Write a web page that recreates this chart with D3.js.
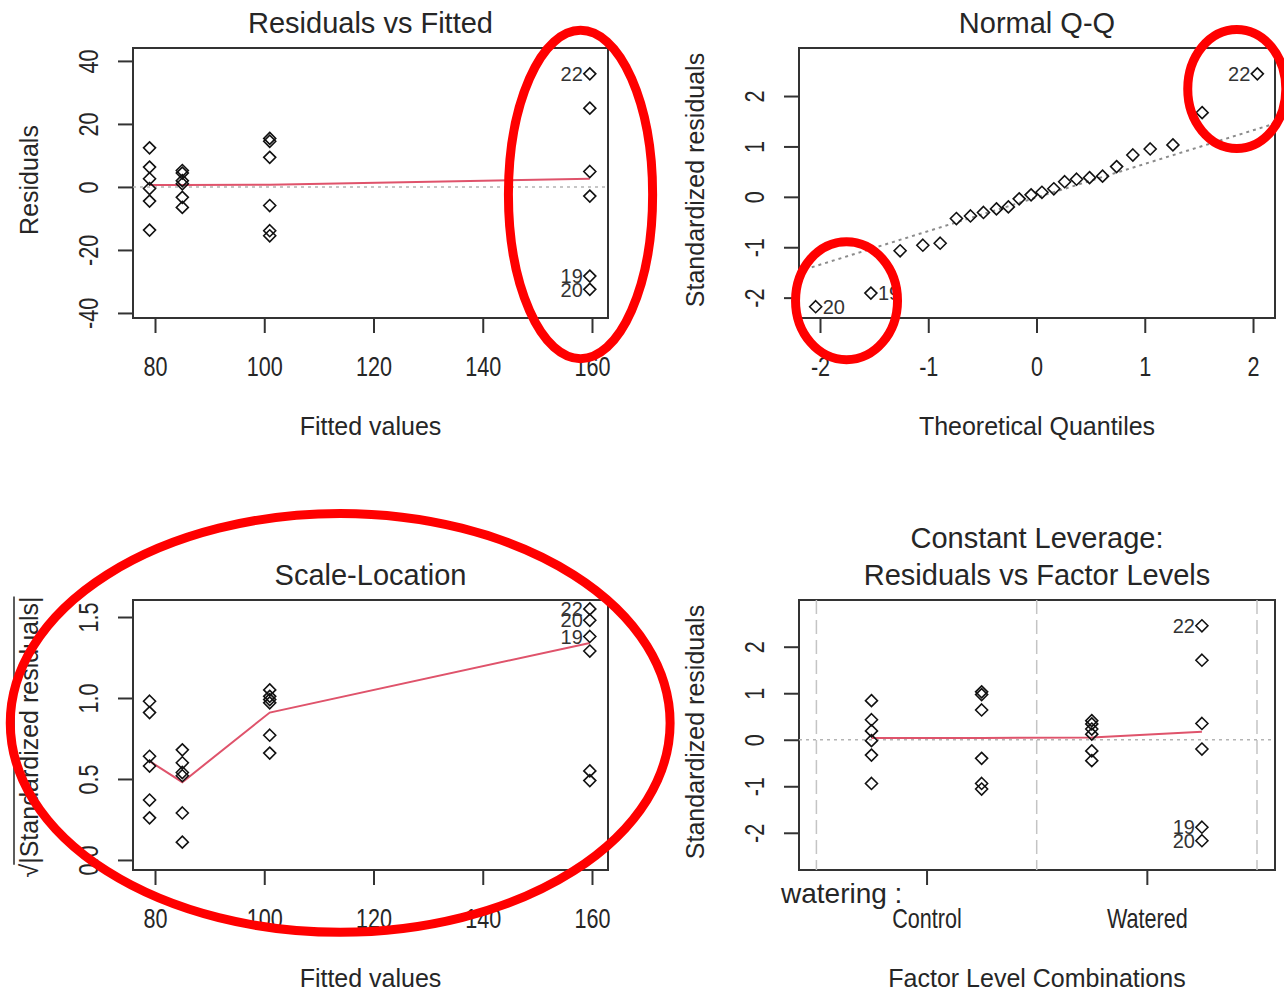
<!DOCTYPE html>
<html>
<head>
<meta charset="utf-8">
<script src="https://cdn.jsdelivr.net/npm/d3@7"></script>
<style>
  body { margin: 0; background: #fff; }
  svg { display: block; font-family: "Liberation Sans", Arial, sans-serif; }
</style>
</head>
<body>
<svg id="chart" width="1284" height="991"></svg>
<script>
// fitted value of each of the four treatment groups (6 plants each)
const fittedLevels = [79, 85, 101, 159.6];
const factorPositions = [1, 3, 5, 7];
const factorDividers = [0, 4, 8];
const factorTicks = [2, 6];
const factorTickLabels = ['Control', 'Watered'];

// Residuals vs Fitted
const residuals = [
  [12.4, 6.3, 2.6, -0.5, -4.5, -13.7],
  [5.2, 4.4, 2.0, 1.0, -3.3, -6.5],
  [15.4, 14.5, 9.4, -5.9, -13.9, -15.5],
  [35.9, 25.0, 4.9, -2.9, -28.3, -32.5]
];
const residualIds = ['22', '', '', '', '19', '20'];
const residualSmooth = [0.6, 0.6, 0.7, 2.6];

// Normal Q-Q
const qqTheoretical = [-2.04, -1.53, -1.26, -1.05, -0.89, -0.74, -0.61, -0.49, -0.37, -0.26, -0.16, -0.05,
  0.05, 0.16, 0.26, 0.37, 0.49, 0.61, 0.74, 0.89, 1.05, 1.26, 1.53, 2.04];
const qqStandardized = [-2.18, -1.91, -1.07, -0.96, -0.92, -0.43, -0.38, -0.31, -0.24, -0.20, -0.04, 0.04,
  0.09, 0.16, 0.30, 0.35, 0.38, 0.41, 0.60, 0.83, 0.95, 1.03, 1.67, 2.44];
const qqIds = ['20', '19', '', '', '', '', '', '', '', '', '', '', '', '', '', '', '', '', '', '', '', '', '', '22'];
const qqLineX = [-2.2, 2.21];
const qqLineY = [-1.48, 1.46];

// Scale-Location
const sqrtStd = [
  [0.98, 0.91, 0.64, 0.58, 0.37, 0.26],
  [0.68, 0.60, 0.54, 0.52, 0.29, 0.11],
  [1.05, 1.01, 0.99, 0.97, 0.77, 0.66],
  [1.55, 1.48, 1.38, 1.29, 0.55, 0.49]
];
const sqrtStdIds = ['22', '20', '19', '', '', ''];
const sqrtStdSmooth = [0.61, 0.48, 0.91, 1.34];

// Constant Leverage: Residuals vs Factor Levels
const factorStd = [
  [0.84, 0.43, 0.19, -0.02, -0.33, -0.94],
  [1.03, 0.97, 0.64, -0.40, -0.94, -1.06],
  [0.41, 0.34, 0.23, 0.12, -0.24, -0.45],
  [2.45, 1.71, 0.35, -0.20, -1.88, -2.17]
];
const factorStdIds = ['22', '', '', '', '19', '20'];
const factorStdSmooth = [0.04, 0.04, 0.05, 0.17];

// hand-drawn red highlight rings, in each panel's data units
const ringPanel = [0, 1, 1, 2];
const ringCx = [157.9, 1.85, -1.755, 113.9];
const ringCy = [-2.4, 2.14, -2.06, 0.846];
const ringRx = [13.2, 0.453, 0.471, 60.4];
const ringRy = [52.1, 1.18, 1.17, 1.293];

const svg = d3.select('#chart');
const ink = '#262626';
const smoothColor = '#DF536B';
const tickFont = 27;
const tickSqueeze = 0.8;

const panels = [
  {
    left: 133, right: 608, top: 48, bottom: 318,
    xDomain: [75.97, 162.93], yDomain: [-41.6, 44.1],
    xTicks: [80, 100, 120, 140, 160], yTicks: [-40, -20, 0, 20, 40],
    title: ['Residuals vs Fitted'], xTitle: 'Fitted values', yTitle: 'Residuals'
  },
  {
    left: 799, right: 1275, top: 48, bottom: 318,
    xDomain: [-2.194, 2.203], yDomain: [-2.404, 2.953],
    xTicks: [-2, -1, 0, 1, 2], yTicks: [-2, -1, 0, 1, 2],
    title: ['Normal Q-Q'], xTitle: 'Theoretical Quantiles', yTitle: 'Standardized residuals'
  },
  {
    left: 133, right: 608, top: 600, bottom: 870,
    xDomain: [75.97, 162.93], yDomain: [-0.062, 1.605],
    xTicks: [80, 100, 120, 140, 160], yTicks: [0, 0.5, 1, 1.5], yFormat: d3.format('.1f'),
    title: ['Scale-Location'], xTitle: 'Fitted values', yTitle: null
  },
  {
    left: 799, right: 1275, top: 600, bottom: 870,
    xDomain: [-0.316, 8.327], yDomain: [-2.80, 3.004],
    xTicks: factorTicks, yTicks: [-2, -1, 0, 1, 2],
    xFormat: (d, i) => factorTickLabels[i],
    title: ['Constant Leverage:', 'Residuals vs Factor Levels'],
    xTitle: 'Factor Level Combinations', yTitle: 'Standardized residuals'
  }
];

const scales = panels.map(drawFrame);

// --- Residuals vs Fitted
{
  const { x, y, g, p } = scales[0];
  zeroLine(g, p, y);
  smoothLine(g, fittedLevels.map((f, i) => [x(f), y(residualSmooth[i])]));
  residuals.forEach((grp, gi) => grp.forEach((v, i) => {
    diamond(g, x(fittedLevels[gi]), y(v));
    if (gi === 3 && residualIds[i]) pointLabel(g, x(fittedLevels[gi]), y(v), residualIds[i], 'left');
  }));
}

// --- Normal Q-Q
{
  const { x, y, g } = scales[1];
  g.append('path')
    .attr('d', d3.line()(qqLineX.map((v, i) => [x(v), y(qqLineY[i])])))
    .attr('stroke', '#8c8c8c')
    .attr('stroke-width', 2)
    .attr('stroke-dasharray', '3,4')
    .attr('clip-path', 'url(#clip1)')
    .attr('fill', 'none');
  qqTheoretical.forEach((q, i) => {
    diamond(g, x(q), y(qqStandardized[i]));
    if (qqIds[i]) pointLabel(g, x(q), y(qqStandardized[i]), qqIds[i], i < 12 ? 'right' : 'left');
  });
}

// --- Scale-Location
{
  const { x, y, g, p } = scales[2];
  smoothLine(g, fittedLevels.map((f, i) => [x(f), y(sqrtStdSmooth[i])]));
  sqrtStd.forEach((grp, gi) => grp.forEach((v, i) => {
    diamond(g, x(fittedLevels[gi]), y(v));
    if (gi === 3 && sqrtStdIds[i]) pointLabel(g, x(fittedLevels[gi]), y(v), sqrtStdIds[i], 'left');
  }));

  // y title: sqrt(|Standardized residuals|) with a bar over it
  const yt = g.append('g').attr('transform', `translate(${p.left - 95},${(p.top + p.bottom) / 2 + 2}) rotate(-90)`);
  const t = yt.append('text')
    .attr('text-anchor', 'middle')
    .attr('font-size', 25)
    .attr('fill', ink)
    .text('\u221A|Standardized residuals|');
  const full = t.node().getComputedTextLength();
  const root = t.node().getSubStringLength(0, 1);
  yt.append('line')
    .attr('x1', -full / 2 + root - 1).attr('x2', full / 2)
    .attr('y1', -24).attr('y2', -24)
    .attr('stroke', ink).attr('stroke-width', 1.5);
}

// --- Constant Leverage
{
  const { x, y, g, p } = scales[3];
  factorDividers.forEach(d => {
    g.append('line')
      .attr('x1', x(d)).attr('x2', x(d))
      .attr('y1', p.top).attr('y2', p.bottom)
      .attr('stroke', '#c4c4c4')
      .attr('stroke-width', 1.5)
      .attr('stroke-dasharray', '14,6');
  });
  zeroLine(g, p, y);
  smoothLine(g, factorPositions.map((f, i) => [x(f), y(factorStdSmooth[i])]));
  factorStd.forEach((grp, gi) => grp.forEach((v, i) => {
    diamond(g, x(factorPositions[gi]), y(v));
    if (gi === 3 && factorStdIds[i]) pointLabel(g, x(factorPositions[gi]), y(v), factorStdIds[i], 'left');
  }));
  g.append('text')
    .attr('x', p.left - 18)
    .attr('y', p.bottom + 33)
    .attr('font-size', 28)
    .attr('fill', ink)
    .text('watering :');
}

// red rings on top of everything
ringPanel.forEach((pi, i) => {
  const { x, y } = scales[pi];
  svg.append('ellipse')
    .attr('cx', x(ringCx[i]))
    .attr('cy', y(ringCy[i]))
    .attr('rx', Math.abs(x(ringCx[i] + ringRx[i]) - x(ringCx[i])))
    .attr('ry', Math.abs(y(ringCy[i] + ringRy[i]) - y(ringCy[i])))
    .attr('fill', 'none')
    .attr('stroke', '#f00')
    .attr('stroke-width', 9);
});

function drawFrame(p, idx) {
  const x = d3.scaleLinear().domain(p.xDomain).range([p.left, p.right]);
  const y = d3.scaleLinear().domain(p.yDomain).range([p.bottom, p.top]);
  const g = svg.append('g');

  g.append('clipPath').attr('id', 'clip' + idx)
    .append('rect')
    .attr('x', p.left).attr('y', p.top)
    .attr('width', p.right - p.left).attr('height', p.bottom - p.top);

  // bottom axis
  g.append('g')
    .attr('transform', `translate(0,${p.bottom})`)
    .call(d3.axisBottom(x).tickValues(p.xTicks).tickSize(15).tickFormat(p.xFormat || String))
    .call(styleAxis)
    .selectAll('text')
      .attr('y', 58).attr('dy', null)
      .attr('transform', `scale(${tickSqueeze},1)`);

  // left axis, labels parallel to the axis
  g.append('g')
    .attr('transform', `translate(${p.left},0)`)
    .call(d3.axisLeft(y).tickValues(p.yTicks).tickSize(15).tickFormat(p.yFormat || String))
    .call(styleAxis)
    .selectAll('text')
      .attr('x', 0).attr('y', -35).attr('dy', null)
      .attr('text-anchor', 'middle')
      .attr('transform', `rotate(-90) scale(${tickSqueeze},1)`);

  g.append('rect')
    .attr('x', p.left).attr('y', p.top)
    .attr('width', p.right - p.left).attr('height', p.bottom - p.top)
    .attr('fill', 'none')
    .attr('stroke', '#333')
    .attr('stroke-width', 2);

  const cx = (p.left + p.right) / 2;
  p.title.forEach((t, i) => {
    g.append('text')
      .attr('x', cx)
      .attr('y', p.top - 15 - (p.title.length - 1 - i) * 37)
      .attr('text-anchor', 'middle')
      .attr('font-size', 29)
      .attr('fill', ink)
      .text(t);
  });

  g.append('text')
    .attr('x', cx)
    .attr('y', p.bottom + 117)
    .attr('text-anchor', 'middle')
    .attr('font-size', 25)
    .attr('fill', ink)
    .text(p.xTitle);

  if (p.yTitle) {
    g.append('text')
      .attr('transform', `translate(${p.left - 95},${(p.top + p.bottom) / 2 - 3}) rotate(-90)`)
      .attr('text-anchor', 'middle')
      .attr('font-size', 25)
      .attr('fill', ink)
      .text(p.yTitle);
  }

  return { x, y, g, p };
}

function styleAxis(sel) {
  sel.attr('font-size', null).attr('font-family', null);
  sel.select('.domain').remove();
  sel.selectAll('.tick line').attr('stroke', '#333').attr('stroke-width', 2);
  sel.selectAll('.tick text').attr('fill', ink).attr('font-size', tickFont);
}

function zeroLine(g, p, y) {
  g.append('line')
    .attr('x1', p.left).attr('x2', p.right)
    .attr('y1', y(0)).attr('y2', y(0))
    .attr('stroke', '#b4b4b4')
    .attr('stroke-width', 1.5)
    .attr('stroke-dasharray', '3,4');
}

function smoothLine(g, pts) {
  g.append('path')
    .attr('d', d3.line()(pts))
    .attr('fill', 'none')
    .attr('stroke', smoothColor)
    .attr('stroke-width', 2);
}

function diamond(g, cx, cy) {
  const r = 6;
  g.append('path')
    .attr('d', `M${cx},${cy - r}L${cx + r},${cy}L${cx},${cy + r}L${cx - r},${cy}Z`)
    .attr('fill', 'none')
    .attr('stroke', '#111')
    .attr('stroke-width', 1.6);
}

function pointLabel(g, cx, cy, text, side) {
  g.append('text')
    .attr('x', side === 'left' ? cx - 7 : cx + 7)
    .attr('y', cy)
    .attr('dy', '0.36em')
    .attr('text-anchor', side === 'left' ? 'end' : 'start')
    .attr('font-size', 20)
    .attr('fill', '#333')
    .text(text);
}
</script>
</body>
</html>
